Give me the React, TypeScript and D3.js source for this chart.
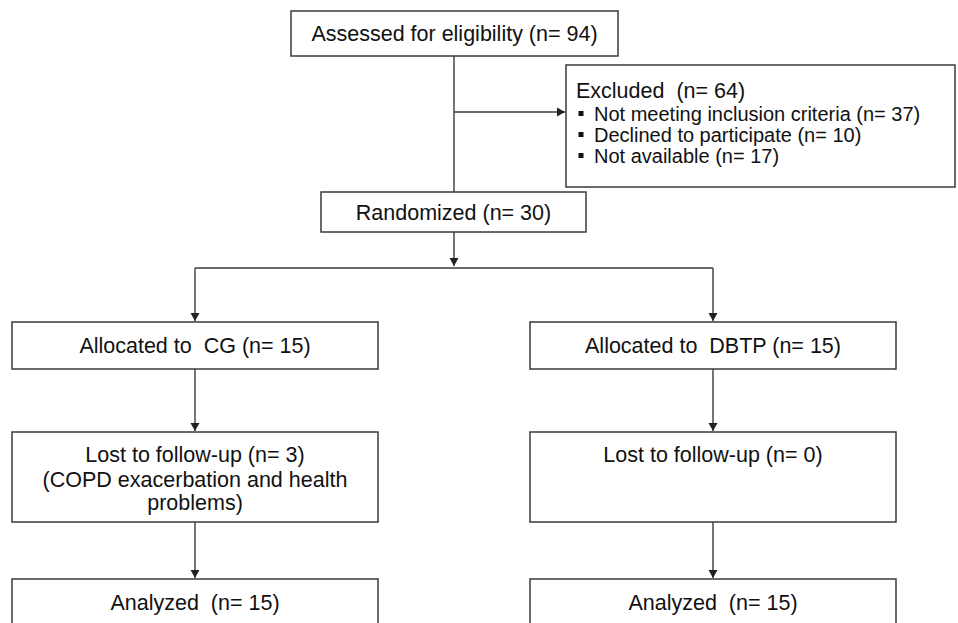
import React from "react";
import * as d3 from "d3";

// ---- data ----
const assessedN = 94;
const excludedN = 64;
const exclusionReasons = ["Not meeting inclusion criteria", "Declined to participate", "Not available"];
const exclusionCounts = [37, 10, 17];
const randomizedN = 30;
const groups = ["CG", "DBTP"];
const allocatedCounts = [15, 15];
const lostCounts = [3, 0];
const lostNotes = [["(COPD exacerbation and health", "problems)"], []];
const analyzedCounts = [15, 15];

const W = 958;
const H = 623;
const FONT = "'Liberation Sans', Arial, Helvetica, sans-serif";
const FS = 21.5;
const FS_SMALL = 20;
const STROKE = "#3a3a3a";

export default function App() {
  const colX = d3.scalePoint<string>().domain(groups).range([195, 713]);
  const halfW = 183;
  const line = d3.line<[number, number]>();

  const centerX = 454;
  const assessed = { x0: 291, x1: 618, y0: 11, y1: 56 };
  const excluded = { x0: 566, x1: 955, y0: 65, y1: 187 };
  const randomized = { x0: 321, x1: 586, y0: 192, y1: 232 };
  const splitY = 268;
  const rows = {
    alloc: { y0: 322, y1: 369 },
    lost: { y0: 432, y1: 522 },
    anal: { y0: 579, y1: 650 },
  };

  const arrowHead = (x: number, y: number, dir: "down" | "right") => {
    const s = 4.5;
    const pts: [number, number][] =
      dir === "down"
        ? [[x - s, y - 8], [x + s, y - 8], [x, y]]
        : [[x - 8, y - s], [x - 8, y + s], [x, y]];
    return <path d={line(pts)! + "Z"} fill="#222" />;
  };

  const rect = (b: { x0: number; x1: number; y0: number; y1: number }, key?: string) => (
    <rect key={key} x={b.x0} y={b.y0} width={b.x1 - b.x0} height={b.y1 - b.y0} fill="#fff" stroke={STROKE} strokeWidth={1.5} />
  );

  const txt = (s: string, x: number, y: number, anchor = "middle", key?: string, fs = FS) => (
    <text key={key} x={x} y={y} textAnchor={anchor} fontFamily={FONT} fontSize={fs} fill="#111" style={{ whiteSpace: "pre" }}>
      {s}
    </text>
  );

  const conn = (pts: [number, number][], key?: string) => (
    <path key={key} d={line(pts)!} fill="none" stroke={STROKE} strokeWidth={1.4} />
  );

  return (
    <svg width={W} height={H} style={{ position: "absolute", left: 0, top: 0, background: "#fff" }}>
      <rect width={W} height={H} fill="#fff" />
      {/* main trunk */}
      {conn([[centerX, assessed.y1], [centerX, randomized.y0]])}
      {conn([[centerX, 112], [excluded.x0 - 1, 112]])}
      {arrowHead(excluded.x0 - 1, 112, "right")}
      {conn([[centerX, randomized.y1], [centerX, splitY - 2]])}
      {arrowHead(centerX, splitY - 2, "down")}
      {conn([[colX("CG")!, splitY], [colX("DBTP")!, splitY]])}

      {rect(assessed)}
      {txt(`Assessed for eligibility (n= ${assessedN})`, (assessed.x0 + assessed.x1) / 2, 41)}

      {rect(excluded)}
      {txt(`Excluded  (n= ${excludedN})`, 576, 98, "start")}
      {exclusionReasons.map((r, i) => (
        <g key={r}>
          <rect x={578.5} y={111 + i * 21} width={5} height={5} fill="#111" />
          {txt(`${r} (n= ${exclusionCounts[i]})`, 594, 121 + i * 21, "start", undefined, FS_SMALL)}
        </g>
      ))}

      {rect(randomized)}
      {txt(`Randomized (n= ${randomizedN})`, (randomized.x0 + randomized.x1) / 2, 220)}

      {groups.map((g, i) => {
        const cx = colX(g)!;
        return (
          <g key={g}>
            {conn([[cx, splitY], [cx, rows.alloc.y0 - 1]])}
            {arrowHead(cx, rows.alloc.y0 - 1, "down")}
            {conn([[cx, rows.alloc.y1], [cx, rows.lost.y0 - 1]])}
            {arrowHead(cx, rows.lost.y0 - 1, "down")}
            {conn([[cx, rows.lost.y1], [cx, rows.anal.y0 - 1]])}
            {arrowHead(cx, rows.anal.y0 - 1, "down")}

            {rect({ x0: cx - halfW, x1: cx + halfW, ...rows.alloc })}
            {txt(`Allocated to  ${g} (n= ${allocatedCounts[i]})`, cx, 353)}

            {rect({ x0: cx - halfW, x1: cx + halfW, ...rows.lost })}
            {txt(`Lost to follow-up (n= ${lostCounts[i]})`, cx, 462)}
            {lostNotes[i].map((l, j) => txt(l, cx, 486.5 + j * 23, "middle", `n${j}`))}

            {rect({ x0: cx - halfW, x1: cx + halfW, ...rows.anal })}
            {txt(`Analyzed  (n= ${analyzedCounts[i]})`, cx, 610)}
          </g>
        );
      })}
    </svg>
  );
}
